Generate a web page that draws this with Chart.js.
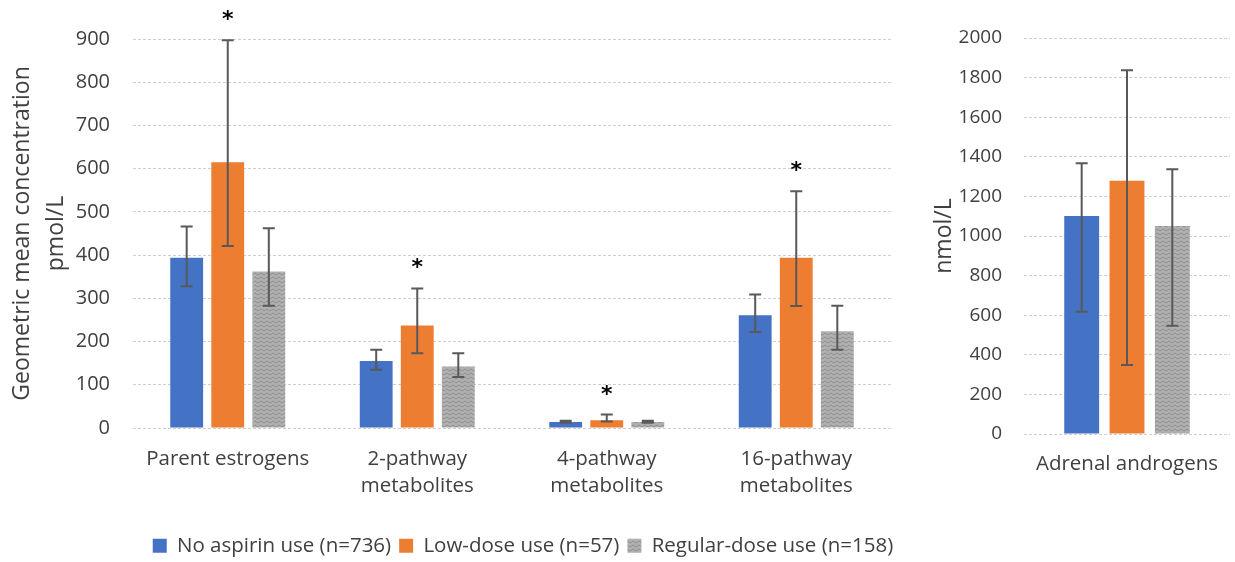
<!DOCTYPE html>
<html><head><meta charset="utf-8">
<script src="https://cdn.jsdelivr.net/npm/chart.js@4"></script>
<style>
html,body{margin:0;padding:0;background:#fff;overflow:hidden;width:1235px;height:562px;}
canvas{position:absolute;top:0;}
#c1{left:0;}
#c2{left:920px;}
</style></head><body>
<canvas id="c1" width="1046" height="566"></canvas>
<canvas id="c2" width="315" height="566"></canvas>
<script>
// ---- data ----
const categories = ['Parent estrogens', ['2-pathway','metabolites'], ['4-pathway','metabolites'], ['16-pathway','metabolites']];
const seriesNames = ['No aspirin use (n=736)', 'Low-dose use (n=57)', 'Regular-dose use (n=158)'];
const noAspirin      = [394, 155, 14, 261];
const noAspirinLow   = [328, 135, 12, 222];
const noAspirinHigh  = [466, 181, 17, 309];
const lowDose        = [615, 237, 18, 394];
const lowDoseLow     = [421, 173, 15, 282];
const lowDoseHigh    = [897, 323, 31, 548];
const regularDose    = [362, 142, 14, 224];
const regularDoseLow = [283, 118, 12, 181];
const regularDoseHigh= [462, 173, 17, 283];
const lowDoseSignificant = [true, true, true, true];
const leftAxisTitle = ['Geometric mean concentration', 'pmol/L'];
const leftMax = 900, leftStep = 100;

const androgenCategories = ['Adrenal androgens'];
const androgenNo       = [1101];
const androgenNoLow    = [618];
const androgenNoHigh   = [1367];
const androgenLowDose  = [1279];
const androgenLowDoseLow  = [348];
const androgenLowDoseHigh = [1837];
const androgenRegular     = [1050];
const androgenRegularLow  = [547];
const androgenRegularHigh = [1337];
const rightAxisTitle = 'nmol/L';
const rightMax = 2000, rightStep = 200;

// ---- styles ----
const FONT = '"Open Sans", "DejaVu Sans", sans-serif';
const TXT = '#404040';
const BLUE = '#4472C4', ORANGE = '#ED7D31';
function grayPattern(){
  const c = document.createElement('canvas'); c.width = 6; c.height = 4;
  const g = c.getContext('2d');
  g.fillStyle = '#b0b0b0'; g.fillRect(0,0,6,4);
  g.strokeStyle = '#8f8f8f'; g.lineWidth = 1;
  g.beginPath(); g.moveTo(0,3); g.lineTo(3,1); g.lineTo(6,3); g.stroke();
  return g.createPattern(c, 'repeat');
}
const GRAY = grayPattern();

const errorBars = {
  id: 'errorBars',
  afterDatasetsDraw(chart){
    const ctx = chart.ctx, y = chart.scales.y;
    chart.data.datasets.forEach((ds, i) => {
      if (!ds.errLow) return;
      const meta = chart.getDatasetMeta(i);
      meta.data.forEach((bar, j) => {
        const x = bar.x;
        const yl = y.getPixelForValue(ds.errLow[j]);
        const yh = y.getPixelForValue(ds.errHigh[j]);
        ctx.save();
        ctx.strokeStyle = '#595959'; ctx.lineWidth = 2;
        ctx.beginPath();
        ctx.moveTo(x, yl); ctx.lineTo(x, yh);
        ctx.moveTo(x-6, yl); ctx.lineTo(x+6, yl);
        ctx.moveTo(x-6, yh); ctx.lineTo(x+6, yh);
        ctx.stroke();
        if (ds.sig && ds.sig[j]) {
          ctx.fillStyle = '#000';
          ctx.font = 'bold 22px "DejaVu Sans"';
          ctx.textAlign = 'center'; ctx.textBaseline = 'alphabetic';
          ctx.fillText('*', x, yh - 14);
        }
        ctx.restore();
      });
    });
  }
};

const gridOpts = { color: '#cfcfcf', lineWidth: 1, drawTicks: false };
const plainNumber = v => String(v);

Chart.defaults.font.family = FONT;
Chart.defaults.color = TXT;

new Chart(document.getElementById('c1'), {
  type: 'bar',
  data: {
    labels: categories,
    datasets: [
      { label: seriesNames[0], data: noAspirin, backgroundColor: BLUE, errLow: noAspirinLow, errHigh: noAspirinHigh },
      { label: seriesNames[1], data: lowDose, backgroundColor: ORANGE, errLow: lowDoseLow, errHigh: lowDoseHigh, sig: lowDoseSignificant },
      { label: seriesNames[2], data: regularDose, backgroundColor: GRAY, errLow: regularDoseLow, errHigh: regularDoseHigh }
    ]
  },
  options: {
    responsive: false, animation: false, devicePixelRatio: 1,
    categoryPercentage: 0.65, barPercentage: 0.8,
    layout: { padding: { top: 39, left: 0, right: 0, bottom: 0 } },
    plugins: {
      legend: { position: 'bottom', labels: { boxWidth: 14, boxHeight: 14, padding: 8, font: { size: 20.5 }, color: TXT } },
      tooltip: { enabled: false }
    },
    scales: {
      x: {
        grid: { display: false }, border: { display: false },
        ticks: { font: { size: 20.5, lineHeight: 1.3 }, padding: 10, maxRotation: 0, autoSkip: false, color: TXT },
        afterFit(s){ s.height = 99.5; }
      },
      y: {
        min: 0, max: leftMax,
        grid: gridOpts, border: { display: false, dash: [3,2] },
        ticks: { stepSize: leftStep, font: { size: 20 }, padding: 23, color: TXT, callback: plainNumber },
        title: { display: true, text: leftAxisTitle, font: { size: 23, lineHeight: 1.48 }, padding: { top: 5, bottom: 0 }, color: TXT },
        afterFit(s){ s.width = 133; }
      },
      pad: {
        position: 'right', display: true, grid: { display: false }, border: { display: false },
        ticks: { display: false }, afterFit(s){ s.width = 155; }
      }
    }
  },
  plugins: [errorBars]
});

new Chart(document.getElementById('c2'), {
  type: 'bar',
  data: {
    labels: androgenCategories,
    datasets: [
      { label: seriesNames[0], data: androgenNo, backgroundColor: BLUE, errLow: androgenNoLow, errHigh: androgenNoHigh },
      { label: seriesNames[1], data: androgenLowDose, backgroundColor: ORANGE, errLow: androgenLowDoseLow, errHigh: androgenLowDoseHigh },
      { label: seriesNames[2], data: androgenRegular, backgroundColor: GRAY, errLow: androgenRegularLow, errHigh: androgenRegularHigh }
    ]
  },
  options: {
    responsive: false, animation: false, devicePixelRatio: 1,
    categoryPercentage: 0.66, barPercentage: 0.77,
    layout: { padding: { top: 38, left: 0, right: 5, bottom: 72 } },
    plugins: { legend: { display: false }, tooltip: { enabled: false } },
    scales: {
      x: {
        grid: { display: false }, border: { display: false },
        ticks: { font: { size: 20.5, lineHeight: 1.3 }, padding: 9, maxRotation: 0, color: TXT },
        afterFit(s){ s.height = 60; }
      },
      y: {
        min: 0, max: rightMax,
        grid: gridOpts, border: { display: false, dash: [3,2] },
        ticks: { stepSize: rightStep, font: { size: 19 }, padding: 22, color: TXT, callback: plainNumber },
        title: { display: true, text: rightAxisTitle, font: { size: 23, lineHeight: 1.48 }, padding: { top: 7, bottom: 0 }, color: TXT },
        afterFit(s){ s.width = 104; }
      }
    }
  },
  plugins: [errorBars]
});
</script>
</body></html>
